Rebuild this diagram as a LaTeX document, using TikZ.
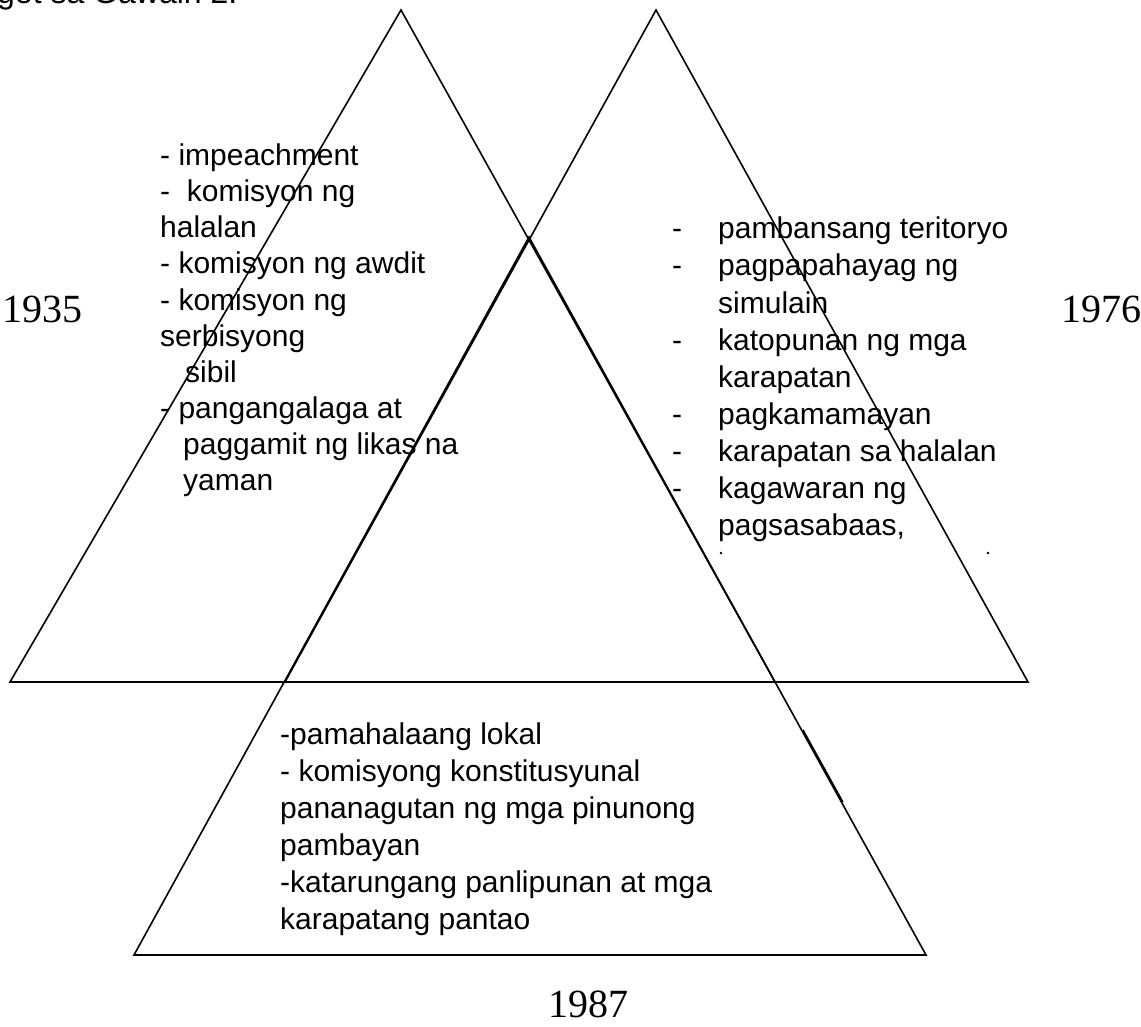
\documentclass[tikz,border=0pt]{standalone}
\usepackage{fontspec}
\setmainfont{Liberation Sans}
\newfontfamily\yearfont{Liberation Serif}
\begin{document}
\begin{tikzpicture}[x=1pt,y=-1pt,
  edge/.style={line width=1.6pt, line join=miter},
  body/.style={font=\fontsize{30}{37}\selectfont, anchor=base west, inner sep=0pt},
  year/.style={font=\yearfont\fontsize{40}{48}\selectfont, anchor=base west, inner sep=0pt}]
\useasboundingbox (0,0) rectangle (1141,1027);
% triangles
\coordinate (LA) at (401,10);
\coordinate (LL) at (10,682);
\coordinate (LR) at (775,682);
\coordinate (RA) at (656,10);
\coordinate (RL) at (285,682);
\coordinate (RR) at (1028,682);
\coordinate (BA) at (529,237);
\coordinate (BL) at (134,955);
\coordinate (BR) at (926,955);
\coordinate (S1) at (803,730);
\coordinate (S2) at (842.8,802);
\draw[edge] (LA) -- (LL) -- (LR) -- cycle;
\draw[edge] (RA) -- (RL) -- (RR) -- cycle;
\draw[edge] (BA) -- (BL) -- (BR) -- cycle;
\draw[edge] (S1) -- (S2);
% top cut text
\node[body, font=\fontsize{32}{38}\selectfont] (top) at (-3,4) {get sa Gawain 2.};
% year labels
\node[year] (y1935) at (2,322) {1935};
\node[year] (y1976) at (1061,322) {1976};
\node[year] (y1987) at (548,1017) {1987};
% left block
\node[body] (l1) at (160,166) {- impeachment};
\node[body] (l2) at (160,202) {-\ \ komisyon ng};
\node[body] (l3) at (160,238) {halalan};
\node[body] (l4) at (160,274) {- komisyon ng awdit};
\node[body] (l5) at (160,310) {- komisyon ng};
\node[body] (l6) at (160,346) {serbisyong};
\node[body] (l7) at (185,382) {sibil};
\node[body] (l8) at (160,418) {- pangangalaga at};
\node[body] (l9) at (183,454) {paggamit ng likas na};
\node[body] (l10) at (183,490) {yaman};
% right block
\node[body] (r1d) at (672,239) {-};
\node[body] (r1) at (718,239) {pambansang teritoryo};
\node[body] (r2d) at (672,276) {-};
\node[body] (r2) at (718,276) {pagpapahayag ng};
\node[body] (r3) at (718,313) {simulain};
\node[body] (r4d) at (672,350) {-};
\node[body] (r4) at (718,350) {katopunan ng mga};
\node[body] (r5) at (718,387) {karapatan};
\node[body] (r6d) at (672,424) {-};
\node[body] (r6) at (718,424) {pagkamamayan};
\node[body] (r7d) at (672,461) {-};
\node[body] (r7) at (718,461) {karapatan sa halalan};
\node[body] (r8d) at (672,498) {-};
\node[body] (r8) at (718,498) {kagawaran ng};
\node[body] (r9) at (718,535) {pagsasabaas,};
\fill (721,553) circle (1.3pt);
\fill (988,553) circle (1.3pt);
% bottom block
\node[body] (b1) at (280,744) {-pamahalaang lokal};
\node[body] (b2) at (280,781) {- komisyong konstitusyunal};
\node[body] (b3) at (280,818) {pananagutan ng mga pinunong};
\node[body] (b4) at (280,855) {pambayan};
\node[body] (b5) at (280,892) {-katarungang panlipunan at mga};
\node[body] (b6) at (280,929) {karapatang pantao};
\end{tikzpicture}
\end{document}
